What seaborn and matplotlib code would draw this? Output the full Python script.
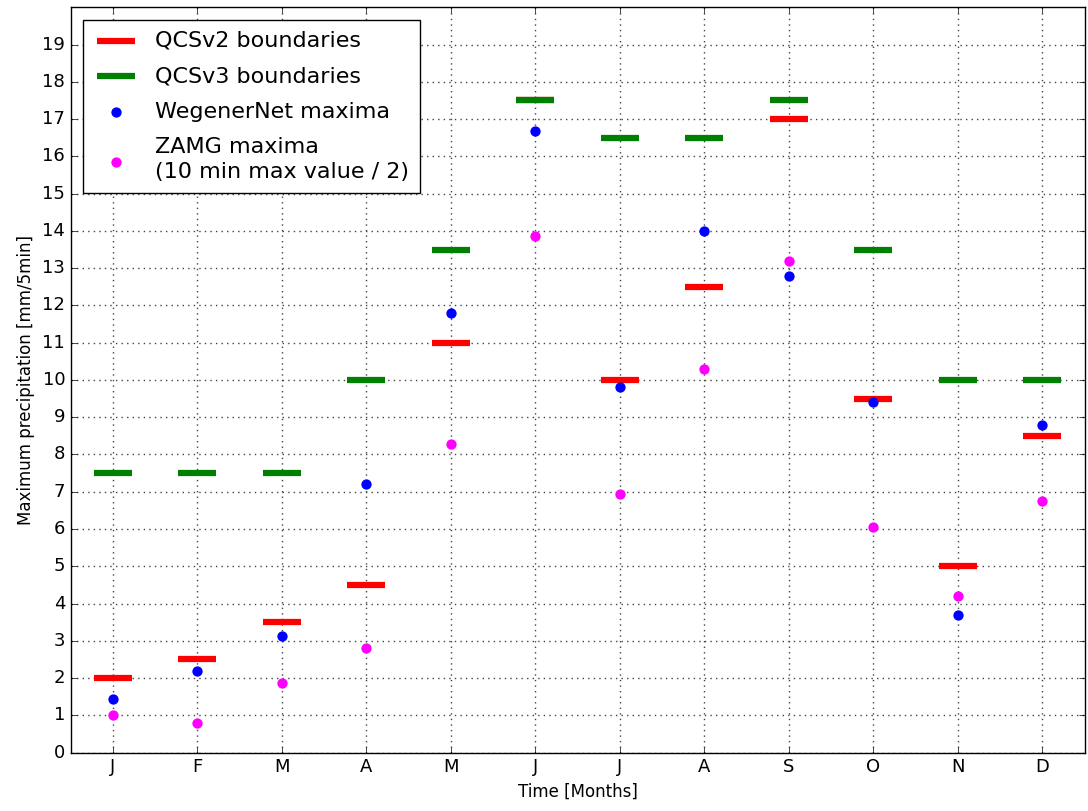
import matplotlib
matplotlib.use("Agg")
import matplotlib.pyplot as plt
import seaborn as sns
import pandas as pd
import numpy as np

months = ["J", "F", "M", "A", "M", "J", "J", "A", "S", "O", "N", "D"]
qcsv2 = [2.0, 2.5, 3.5, 4.5, 11.0, 17.5, 10.0, 12.5, 17.0, 9.5, 5.0, 8.5]
qcsv3 = [7.5, 7.5, 7.5, 10.0, 13.5, 17.5, 16.5, 16.5, 17.5, 13.5, 10.0, 10.0]
wegenernet = [1.43, 2.2, 3.13, 7.2, 11.8, 16.68, 9.81, 14.0, 12.79, 9.4, 3.7, 8.8]
zamg = [1.02, 0.8, 1.87, 2.81, 8.27, 13.86, 6.94, 10.29, 13.19, 6.06, 4.21, 6.76]

plt.style.use("classic")
fig, ax = plt.subplots(figsize=(10.88, 8.11), dpi=100)
fig.patch.set_facecolor("white")
fig.subplots_adjust(left=0.065, right=0.997, top=0.991, bottom=0.072)

x = np.arange(1, 13)
df = pd.DataFrame({"x": x, "v2": qcsv2, "v3": qcsv3, "wn": wegenernet, "zamg": zamg})

sns.scatterplot(data=df, x="x", y="v2", marker="_", s=720, linewidths=4.5, color="#ff0000",
                edgecolor="#ff0000", ax=ax, label="QCSv2 boundaries", zorder=3)
sns.scatterplot(data=df, x="x", y="v3", marker="_", s=720, linewidths=4.5, color="#008000",
                edgecolor="#008000", ax=ax, label="QCSv3 boundaries", zorder=3)
sns.scatterplot(data=df, x="x", y="wn", marker="o", s=55, color="#0000ff", edgecolor="#0000ff",
                linewidth=0, ax=ax, label="WegenerNet maxima", zorder=4)
sns.scatterplot(data=df, x="x", y="zamg", marker="o", s=55, color="#ff00ff", edgecolor="#ff00ff",
                linewidth=0, ax=ax, label="ZAMG maxima\n(10 min max value / 2)", zorder=4)

ax.set_xlim(0.5, 12.5)
ax.set_ylim(0, 20)
ax.set_xticks(x)
ax.set_xticklabels(months, fontsize=13)
ax.set_yticks(range(0, 20))
ax.tick_params(axis="y", labelsize=13)
ax.grid(True, linestyle=":", color="#444444", linewidth=1.0)
ax.set_axisbelow(True)
ax.set_xlabel("Time [Months]", fontsize=12)
ax.set_ylabel("Maximum precipitation [mm/5min]", fontsize=12)

leg = ax.legend(loc="upper left", scatterpoints=1, fontsize=16, frameon=True,
                borderaxespad=0.55, handletextpad=0.75, labelspacing=0.7, borderpad=0.5)
leg.get_frame().set_edgecolor("black")
for t in leg.get_texts():
    t.set_linespacing(1.3)

fig.savefig("out.png", dpi=100, facecolor="white")
